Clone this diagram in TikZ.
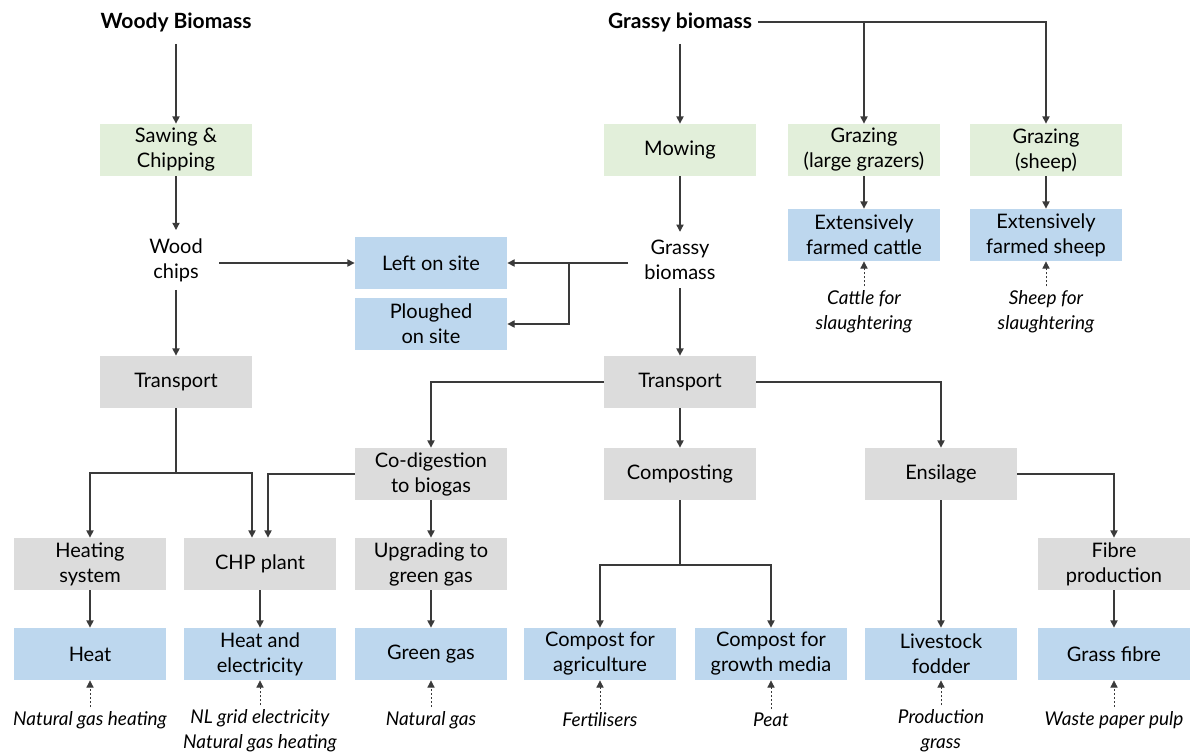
\documentclass[tikz,border=0pt]{standalone}
\usepackage{fontspec}
\setmainfont{Lato}
\usetikzlibrary{arrows.meta}

\definecolor{boxgreen}{HTML}{E2EFDA}
\definecolor{boxblue}{HTML}{BDD7EE}
\definecolor{boxgrey}{HTML}{DCDCDC}
\definecolor{linegrey}{HTML}{3A3A3A}

\begin{document}
\begin{tikzpicture}[x=0.5pt, y=-0.5pt,
  every node/.style={font=\fontsize{10}{12.5}\selectfont, align=center},
  box/.style={minimum width=76pt, minimum height=26pt, inner sep=1pt},
  greenbox/.style={box, fill=boxgreen},
  bluebox/.style={box, fill=boxblue},
  greybox/.style={box, fill=boxgrey},
  plain/.style={inner xsep=8pt, inner ysep=4pt},
  title/.style={font=\fontsize{10.5}{12.5}\selectfont\bfseries, inner xsep=3pt, inner ysep=6pt},
  src/.style={font=\fontsize{9.5}{12.5}\selectfont\itshape, inner ysep=2pt},
  arr/.style={draw=linegrey, line width=0.6pt, -{Triangle[length=3.6pt,width=3.6pt]}},
  dotarr/.style={arr, line width=0.4pt, dash pattern=on 1pt off 1pt}]

\useasboundingbox (0,0) rectangle (1196,756);

%% sources
\node[title] (wb) at (176,22) {Woody Biomass};
\node[title] (gbt) at (680,22) {Grassy biomass};

%% first row
\node[greenbox] (saw) at (176,150) {Sawing \&\\Chipping};
\node[greenbox] (mow) at (680,150) {Mowing};
\node[greenbox] (gzl) at (864,150) {Grazing\\(large grazers)};
\node[greenbox] (gzs) at (1046,150) {Grazing\\(sheep)};

\node[bluebox] (efc) at (864,235) {Extensively\\farmed cattle};
\node[bluebox] (efs) at (1046,235) {Extensively\\farmed sheep};
\node[src] (csl) at (864,312) {Cattle for\\slaughtering};
\node[src] (ssl) at (1046,312) {Sheep for\\slaughtering};

\node[plain] (wc) at (176,260) {Wood\\chips};
\node[plain] (gb) at (680,260) {Grassy\\biomass};
\node[bluebox] (los) at (431,263) {Left on site};
\node[bluebox] (pos) at (431,324) {Ploughed\\on site};

%% transport
\node[greybox] (trl) at (176,382) {Transport};
\node[greybox] (trr) at (680,382) {Transport};

\node[greybox] (cod) at (431,474) {Co-digestion\\to biogas};
\node[greybox] (cmp) at (680,474) {Composting};
\node[greybox] (ens) at (941,474) {Ensilage};

%% conversion
\node[greybox] (hsy) at (90,564) {Heating\\system};
\node[greybox] (chp) at (260,564) {CHP plant};
\node[greybox] (upg) at (431,564) {Upgrading to\\green gas};
\node[greybox] (fib) at (1114,564) {Fibre\\production};

%% products
\node[bluebox] (heat) at (90,654) {Heat};
\node[bluebox] (hel) at (260,654) {Heat and\\electricity};
\node[bluebox] (ggs) at (431,654) {Green gas};
\node[bluebox] (cag) at (600,654) {Compost for\\agriculture};
\node[bluebox] (cgm) at (771,654) {Compost for\\growth media};
\node[bluebox] (lfd) at (941,654) {Livestock\\fodder};
\node[bluebox] (gfb) at (1114,654) {Grass fibre};

%% replaced products
\node[src] (ngh) at (90,720) {Natural gas heating};
\node[src] (nle) at (260,731) {NL grid electricity\\Natural gas heating};
\node[src] (ngs) at (431,720) {Natural gas};
\node[src] (fer) at (600,720) {Fertilisers};
\node[src] (pea) at (771,720) {Peat};
\node[src] (prg) at (941,731) {Production\\grass};
\node[src] (wpp) at (1114,720) {Waste paper pulp};

%% junctions
\coordinate (jpl) at (569,263);
\coordinate (jtl) at (176,473);
\coordinate (jcm) at (680,565);

%% woody chain
\draw[arr] (wb) -- (saw);
\draw[arr] (saw) -- (wc);
\draw[arr] (los.west -| wc.east) -- (los.west);
\draw[arr] (wc) -- (trl);
\draw[arr] (trl) -- (jtl) -| (hsy.north);
\draw[arr] (jtl) -| ([xshift=-4pt]chp.north);
\draw[arr] (cod.west) -| ([xshift=4pt]chp.north);

%% grassy chain
\draw[arr] (gbt) -- (mow);
\draw[arr] (gbt.east) -| (gzs.north);
\draw[arr] (gbt.east -| gzl.north) -- (gzl.north);
\draw[arr] (gzl) -- (efc);
\draw[arr] (gzs) -- (efs);
\draw[arr] (mow) -- (gb);
\draw[arr] (los.east -| gb.west) -- (los.east);
\draw[arr] (jpl) |- (pos.east);
\draw[arr] (gb) -- (trr);
\draw[arr] (trr.west) -| (cod.north);
\draw[arr] (trr) -- (cmp);
\draw[arr] (trr.east) -| (ens.north);
\draw[arr] (cod) -- (upg);
\draw[arr] (cmp) -- (jcm) -| (cag.north);
\draw[arr] (jcm) -| (cgm.north);
\draw[arr] (ens) -- (lfd);
\draw[arr] (ens.east) -| (fib.north);

%% conversion to products
\draw[arr] (hsy) -- (heat);
\draw[arr] (chp) -- (hel);
\draw[arr] (upg) -- (ggs);
\draw[arr] (fib) -- (gfb);

%% dotted: replaced products
\draw[dotarr] (csl) -- (efc);
\draw[dotarr] (ssl) -- (efs);
\draw[dotarr] (ngh) -- (heat);
\draw[dotarr] (nle) -- (hel);
\draw[dotarr] (ngs) -- (ggs);
\draw[dotarr] (fer) -- (cag);
\draw[dotarr] (pea) -- (cgm);
\draw[dotarr] (prg) -- (lfd);
\draw[dotarr] (wpp) -- (gfb);

\end{tikzpicture}
\end{document}
